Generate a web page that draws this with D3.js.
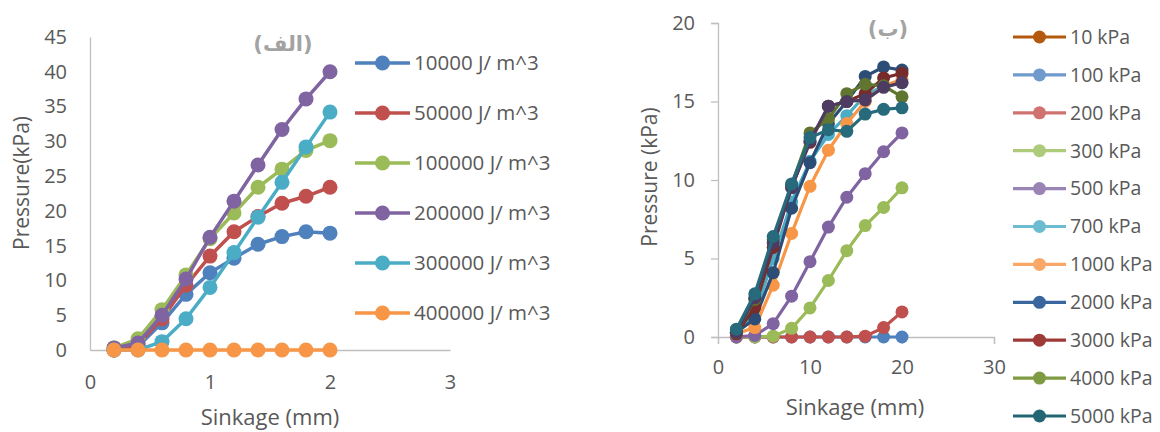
<!DOCTYPE html>
<html>
<head>
<meta charset="utf-8">
<script src="https://cdn.jsdelivr.net/npm/d3@7"></script>
<style>
  body { margin: 0; background: #fff; }
  svg text { font-family: "Open Sans", "Noto Sans", sans-serif; fill: #595959; }
  .axis path, .axis line { stroke: #BFBFBF; stroke-width: 1.3; }
  .axis text { font-size: 20px; }
  .title-fa { font-family: "DejaVu Sans", sans-serif; font-weight: bold; fill: #a3a3a3; }
</style>
</head>
<body>
<div class="chart"></div>
<script>
const width = 1160,
      height = 432;

// ---- left panel (الف) ----
const sinkageA = [0.2, 0.4, 0.6, 0.8, 1.0, 1.2, 1.4, 1.6, 1.8, 2.0];
const energyLabels = ["10000 J/ m^3", "50000 J/ m^3", "100000 J/ m^3",
                      "200000 J/ m^3", "300000 J/ m^3", "400000 J/ m^3"];
const e10000  = [0, 0.5, 3.9, 8.0, 11.1, 13.2, 15.2, 16.3, 17.0, 16.8];
const e50000  = [0, 0.8, 4.5, 9.3, 13.5, 17.0, 19.2, 21.1, 22.1, 23.4];
const e100000 = [0.3, 1.6, 5.8, 10.8, 16.0, 19.7, 23.4, 26.0, 28.7, 30.1];
const e200000 = [0.3, 1.0, 5.0, 10.2, 16.2, 21.4, 26.6, 31.7, 36.1, 40.0];
const e300000 = [0, 0, 1.2, 4.5, 9.0, 14.0, 19.1, 24.1, 29.2, 34.2];
const e400000 = [0, 0, 0, 0, 0, 0, 0, 0, 0, 0];
const colorsA = ["#4F81BD", "#C0504D", "#9BBB59", "#8064A2", "#4BACC6", "#F79646"];
const xTicksA = [0, 1, 2, 3];
const yTicksA = [0, 5, 10, 15, 20, 25, 30, 35, 40, 45];

// ---- right panel (ب) ----
const sinkageB = [2, 4, 6, 8, 10, 12, 14, 16, 18, 20];
const modulusLabels = ["10 kPa", "100 kPa", "200 kPa", "300 kPa", "500 kPa", "700 kPa",
                       "1000 kPa", "2000 kPa", "3000 kPa", "4000 kPa", "5000 kPa"];
const m10   = [0, 0, 0, 0, 0, 0, 0, 0, 0, 0];
const m100  = [0, 0, 0, 0, 0, 0, 0, 0.05, 0.6, 1.6];
const m200  = [0, 0, 0.05, 0.55, 1.85, 3.6, 5.5, 7.1, 8.25, 9.5];
const m300  = [0, 0.1, 0.85, 2.6, 4.8, 7.0, 8.9, 10.4, 11.8, 13.0];
const m500  = [0.3, 1.4, 5.0, 8.6, 11.2, 12.9, 14.1, 15.4, 16.0, 16.2];
const m700  = [0.2, 0.6, 3.3, 6.6, 9.6, 11.9, 13.6, 15.0, 16.0, 16.4];
const m1000 = [0.3, 1.15, 4.1, 8.2, 11.1, 13.6, 15.0, 16.6, 17.2, 17.0];
const m2000 = [0.2, 1.9, 5.7, 9.6, 12.4, 14.7, 15.0, 15.5, 16.5, 16.8];
const m3000 = [0.3, 2.4, 6.2, 9.7, 13.0, 13.9, 15.5, 16.1, 16.0, 15.3];
const m4000 = [0.3, 2.5, 6.0, 9.5, 12.5, 14.7, 15.0, 15.1, 15.9, 16.2];
const m5000 = [0.5, 2.75, 6.4, 9.75, 12.7, 13.2, 13.1, 14.2, 14.5, 14.6];
const lineColorsB = ["#4F81BD", "#C0504D", "#9BBB59", "#8064A2", "#4BACC6", "#F79646",
                     "#2C4D75", "#772C2A", "#5F7530", "#4D3B62", "#276A7C"];
const legendColorsB = ["#B45A0E", "#7099CC", "#D07370", "#AECA7B", "#9A84B6", "#6CBCD1",
                       "#F9A86A", "#3A669E", "#9E3A37", "#7F9B41", "#246674"];
const xTicksB = [0, 10, 20, 30];
const yTicksB = [0, 5, 10, 15, 20];

const svg = d3.select(".chart")
              .append("svg")
              .attr("width", width)
              .attr("height", height);

function drawPanel(cfg) {
    var g = svg.append("g").classed("panel", true);
    var x = d3.scaleLinear().domain(cfg.xDomain).range(cfg.xRange);
    var y = d3.scaleLinear().domain(cfg.yDomain).range(cfg.yRange);

    var xAxis = g.append("g").classed("axis", true)
        .attr("transform", "translate(0," + y(0) + ")")
        .call(d3.axisBottom(x).tickValues(cfg.xTicks).tickFormat(d3.format("d"))
              .tickSize(cfg.tick).tickSizeOuter(cfg.tick));
    xAxis.selectAll("text").attr("y", cfg.xLabelY).attr("dy", "0.35em");

    var yAxis = g.append("g").classed("axis", true)
        .attr("transform", "translate(" + x(0) + ",0)")
        .call(d3.axisLeft(y).tickValues(cfg.yTicks).tickFormat(d3.format("d"))
              .tickSize(cfg.tick).tickSizeOuter(cfg.tick).tickPadding(cfg.yPad));
    g.selectAll(".axis .domain").attr("fill", "none");

    // axis titles
    g.append("text")
     .attr("x", cfg.xTitle[0]).attr("y", cfg.xTitle[1])
     .attr("text-anchor", "middle").attr("dy", "0.35em")
     .style("font-size", "22px")
     .text("Sinkage (mm)");
    g.append("text")
     .attr("transform", "translate(" + cfg.yTitle[0] + "," + cfg.yTitle[1] + ")rotate(-90)")
     .attr("text-anchor", "middle").attr("dy", "0.35em")
     .style("font-size", "21px")
     .text(cfg.yLabel);

    g.append("text").classed("title-fa", true)
     .attr("x", cfg.tag[0]).attr("y", cfg.tag[1])
     .attr("text-anchor", "middle").attr("dy", "0.35em")
     .style("font-size", "21px")
     .attr("direction", "rtl")
     .text(cfg.tagText);

    var line = d3.line().x(function(d, i){ return x(cfg.xs[i]); }).y(function(d){ return y(d); });

    cfg.series.forEach(function(s, k){
        var sg = g.append("g").classed("series", true);
        sg.append("path").datum(s)
          .attr("d", line)
          .attr("fill", "none")
          .attr("stroke", cfg.colors[k])
          .attr("stroke-width", cfg.lw)
          .attr("stroke-linejoin", "round");
        sg.selectAll("circle").data(s).enter().append("circle")
          .attr("cx", function(d, i){ return x(cfg.xs[i]); })
          .attr("cy", function(d){ return y(d); })
          .attr("r", cfg.r)
          .attr("fill", cfg.colors[k]);
    });

    // legend
    var leg = g.append("g").classed("legend", true);
    cfg.labels.forEach(function(l, k){
        var ly = cfg.legY0 + k * cfg.legStep;
        var c = cfg.legColors[k];
        leg.append("line")
           .attr("x1", cfg.legX[0]).attr("x2", cfg.legX[1])
           .attr("y1", ly).attr("y2", ly)
           .attr("stroke", c).attr("stroke-width", cfg.lw);
        leg.append("circle")
           .attr("cx", (cfg.legX[0] + cfg.legX[1]) / 2).attr("cy", ly)
           .attr("r", cfg.r).attr("fill", c);
        leg.append("text")
           .attr("x", cfg.legX[1] + 4).attr("y", ly).attr("dy", "0.35em")
           .style("font-size", cfg.legFont)
           .text(l);
    });
}

drawPanel({
    xs: sinkageA,
    series: [e10000, e50000, e100000, e200000, e300000, e400000],
    colors: colorsA, legColors: colorsA, labels: energyLabels,
    xDomain: [0, 3], xRange: [90, 450],
    yDomain: [0, 45], yRange: [350, 37],
    xTicks: xTicksA, yTicks: yTicksA,
    tick: 0, yPad: 23, xLabelY: 32,
    xTitle: [270, 417], yTitle: [22, 183], yLabel: "Pressure(kPa)",
    tag: [283, 44], tagText: "(الف)",
    lw: 3.5, r: 7.5,
    legX: [355, 410], legY0: 63, legStep: 50, legFont: "20.5px"
});

drawPanel({
    xs: sinkageB,
    series: [m10, m100, m200, m300, m500, m700, m1000, m2000, m3000, m4000, m5000],
    colors: lineColorsB, legColors: legendColorsB, labels: modulusLabels,
    xDomain: [0, 30], xRange: [718, 994],
    yDomain: [0, 20], yRange: [337, 23],
    xTicks: xTicksB, yTicks: yTicksB,
    tick: 7, yPad: 16, xLabelY: 30,
    xTitle: [855, 407], yTitle: [650, 177], yLabel: "Pressure (kPa)",
    tag: [888, 29], tagText: "(ب)",
    lw: 3.2, r: 6.5,
    legX: [1013, 1066], legY0: 37, legStep: 37.9, legFont: "19.5px"
});
</script>
</body>
</html>
